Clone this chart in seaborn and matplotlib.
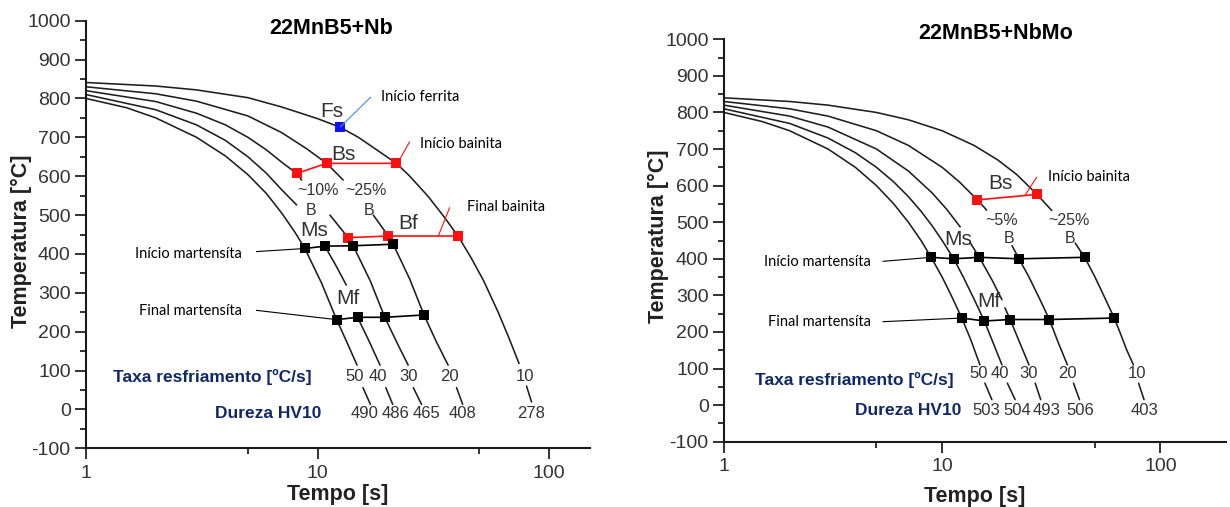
import numpy as np
import pandas as pd
import matplotlib
matplotlib.use("Agg")
import matplotlib.pyplot as plt
from matplotlib.ticker import FixedLocator, MultipleLocator, NullFormatter, FuncFormatter
import seaborn as sns

nan = np.nan

# ---------------- 22MnB5+Nb : cooling curves (time [s], temperature [°C]); nan = break in the line
nb_t50 = [1, 1.5, 2, 3, 4, 5, 6, 7, 8, 8.81, 10.4, 12.08, 13.4, 14.8, nan, 15.7, 16.9]
nb_T50 = [800, 776, 750, 700, 652, 604, 556, 505, 455, 414, 325, 231, 172, 114, nan, 56, 13]
nb_t40 = [1, 2, 3, 4, 5, 6, 7, 8.12, nan, 10.75, 12, 13.3, nan, 14.88, 16.7, 18.6, nan, 19.7, 21.1]
nb_T40 = [810, 771, 732, 692, 650, 608, 565, 526, nan, 420, 370, 320, nan, 237, 175, 114, nan, 56, 13]
nb_t30 = [1, 2, 3, 4, 5, 6, 7, 8.12, 8.53, nan, 11.3, 13.55, 14.24, 16.9, 19.5, 22, 24.6, nan, 25.9, 28.1]
nb_T30 = [820, 792, 762, 732, 700, 668, 636, 607, 590, nan, 500, 442, 421, 330, 237, 172, 114, nan, 56, 13]
nb_t20 = [1, 2, 3, 5, 7, 9, 10.94, 12.9, nan, 17.4, 20.2, 21.2, 25, 28.8, 32.5, 36.6, nan, 39.8, 42.3]
nb_T20 = [830, 812, 793, 755, 712, 670, 633, 590, nan, 500, 446, 425, 335, 243, 175, 114, nan, 56, 13]
nb_t10 = [1, 2, 3, 5, 7, 10, 12.5, 15, 21.9, 25, 30, 35, 40.4, 46, 52, 60, 67, 74.1, nan, 79.8, 83.9]
nb_T10 = [841, 832, 822, 802, 778, 748, 726, 700, 633, 600, 548, 497, 446, 390, 332, 252, 184, 118, nan, 60, 19]

# transformation points
nb_fs_t, nb_fs_T = [12.5], [726]
nb_bs_t, nb_bs_T = [8.12, 10.94, 21.9], [607, 633, 633]
nb_bf_t, nb_bf_T = [13.55, 20.2, 40.4], [442, 446, 446]
nb_ms_t, nb_ms_T = [8.81, 10.75, 14.24, 21.2], [414, 420, 421, 425]
nb_mf_t, nb_mf_T = [12.08, 14.88, 19.5, 28.8], [231, 237, 237, 243]

nb_rates = ["50", "40", "30", "20", "10"]
nb_rate_t = [14.5, 18.2, 24.6, 37.2, 78.5]
nb_hv = ["490", "486", "465", "408", "278"]
nb_hv_t = [16.0, 21.6, 29.5, 42.3, 83.9]

# ---------------- 22MnB5+NbMo
mo_t50 = [1, 1.5, 2, 3, 4, 5, 6, 7, 8, 8.9, 10, 11, 12.3, 13.5, 14.9, nan, 15.7, 16.9]
mo_T50 = [800, 775, 750, 700, 650, 600, 550, 500, 450, 404, 350, 300, 238, 180, 110, nan, 60, 15]
mo_t40 = [1, 2, 3, 4, 5, 6, 7, 8, 9, 10, 11.3, 12.5, 14, 15.6, 17, 18.8, nan, 19.9, 21.6]
mo_T40 = [810, 770, 730, 690, 650, 610, 570, 530, 490, 450, 400, 350, 290, 230, 175, 110, nan, 60, 15]
mo_t30 = [1, 2, 3, 5, 7, 9, 10.5, 12.1, nan, 13.4, 14.8, 17, 18.8, nan, 19.4, 20.5, 22.7, 25.0, nan, 26.7, 28.3]
mo_T30 = [820, 790, 760, 700, 640, 580, 535, 487, nan, 445, 404, 340, 288, nan, 266, 234, 170, 110, nan, 60, 15]
mo_t20 = [1, 2, 3, 5, 7, 10, 12, 14.5, 16.0, nan, 20.9, 22.5, 25, 28, 31.0, 34, 37.5, nan, 40, 42.6]
mo_T20 = [830, 810, 790, 750, 710, 650, 610, 561, 533, nan, 436, 400, 350, 290, 234, 172, 110, nan, 60, 15]
mo_t10 = [1, 2, 3, 5, 7, 10, 14, 18, 22, 27.2, 31.8, nan, 40.7, 45, 50, 55, 61.5, 66, 70, 75.3, nan, 79.5, 84.2]
mo_T10 = [840, 830, 820, 800, 780, 750, 710, 670, 630, 576, 532, nan, 443, 404, 352, 300, 238, 192, 152, 110, nan, 60, 15]

mo_bs_t, mo_bs_T = [14.5, 27.2], [561, 576]
mo_ms_t, mo_ms_T = [8.9, 11.3, 14.8, 22.5, 45.0], [404, 400, 404, 400, 404]
mo_mf_t, mo_mf_T = [12.3, 15.6, 20.5, 31.0, 61.5], [238, 230, 234, 234, 238]

mo_rates = ["50", "40", "30", "20", "10"]
mo_rate_t = [14.7, 18.3, 24.8, 37.5, 78.3]
mo_hv = ["503", "504", "493", "506", "403"]
mo_hv_t = [16.0, 22.0, 30.0, 42.8, 84.2]

# ---------------- styling
sns.set_style("ticks")
plt.rcParams["font.family"] = ["Liberation Sans", "DejaVu Sans"]
plt.rcParams["axes.unicode_minus"] = False

CURVE = "#1e1e1e"
TXT = "#333333"
NAVY = "#10286a"
RED = "#ff1010"
BLUE = "#1010ff"
NOTE_FONT = ["Lato", "DejaVu Sans"]

W, H = 1230, 507
fig = plt.figure(figsize=(W / 100, H / 100), dpi=100)


def box(l, r, b, t):
    return [l / W, 1 - b / H, (r - l) / W, (b - t) / H]


axL = fig.add_axes(box(86, 590, 448.3, 20.7))
axR = fig.add_axes(box(724, 1226, 441.7, 39.3))


def curve_frame(curves):
    rows = []
    for name, ts, Ts in curves:
        seg = 0
        for t, T in zip(ts, Ts):
            if np.isnan(t):
                seg += 1
                continue
            rows.append((f"{name}-{seg}", t, T))
    return pd.DataFrame(rows, columns=["unit", "t", "T"])


def draw_curves(ax, curves):
    df = curve_frame(curves)
    sns.lineplot(data=df, x="t", y="T", units="unit", estimator=None, sort=False,
                 color=CURVE, linewidth=1.15, legend=False, ax=ax)


def draw_points(ax, ts, Ts, color):
    sns.lineplot(x=ts, y=Ts, estimator=None, sort=False, color=color, linewidth=1.2,
                 marker="s", markersize=6.5, markeredgewidth=0, ax=ax)


def connector(ax, ts, Ts, color, lw=0.8):
    ax.plot(ts, Ts, color=color, linewidth=lw, solid_capstyle="butt")


def style_axes(ax, xmax, xlabel_y, ylabel_x, ylabel_y):
    ax.set_xscale("log")
    ax.set_xlim(1, xmax)
    ax.set_ylim(-100, 1000)
    ax.xaxis.set_major_locator(FixedLocator([1, 10, 100]))
    ax.xaxis.set_major_formatter(FuncFormatter(lambda v, p: f"{v:g}"))
    ax.xaxis.set_minor_locator(FixedLocator([5, 50]))
    ax.xaxis.set_minor_formatter(NullFormatter())
    ax.yaxis.set_major_locator(MultipleLocator(100))
    ax.yaxis.set_minor_locator(MultipleLocator(50))
    ax.tick_params(which="major", length=8, width=1.3, color="#222222",
                   labelsize=14, labelcolor=TXT, direction="out")
    ax.tick_params(axis="x", which="major", pad=4)
    ax.tick_params(axis="y", which="major", pad=3)
    ax.tick_params(which="minor", length=4, width=1.3, color="#222222", direction="out")
    for s in ("top", "right"):
        ax.spines[s].set_visible(False)
    for s in ("left", "bottom"):
        ax.spines[s].set_linewidth(1.5)
        ax.spines[s].set_color("#1a1a1a")
    ax.set_xlabel("Tempo [s]", fontsize=15.5, weight="bold", color="#222222")
    ax.set_ylabel("Temperatura [°C]", fontsize=15.5, weight="bold", color="#222222")
    ax.xaxis.label.set_va("center")
    ax.yaxis.label.set_va("center")
    ax.xaxis.set_label_coords(0.5, xlabel_y)
    ax.yaxis.set_label_coords(ylabel_x, ylabel_y)


def put(ax, t, T, s, size=12, ha="center", color=TXT, **kw):
    ax.text(t, T, s, fontsize=size, ha=ha, va="center", color=color, **kw)


# ================= left panel: 22MnB5+Nb
draw_curves(axL, [("50", nb_t50, nb_T50), ("40", nb_t40, nb_T40), ("30", nb_t30, nb_T30),
                  ("20", nb_t20, nb_T20), ("10", nb_t10, nb_T10)])
draw_points(axL, nb_bs_t, nb_bs_T, RED)
draw_points(axL, nb_bf_t, nb_bf_T, RED)
draw_points(axL, nb_ms_t, nb_ms_T, "black")
draw_points(axL, nb_mf_t, nb_mf_T, "black")
draw_points(axL, nb_fs_t, nb_fs_T, BLUE)

connector(axL, [12.5, 17.0], [726, 804], "#3d8fe0")
connector(axL, [22.3, 25.0], [637, 689], RED)
connector(axL, [33.2, 37.2], [446, 520], RED)
connector(axL, [5.42, 8.81], [406, 414], "black")
connector(axL, [5.42, 12.08], [255, 231], "black")

put(axL, 11.5, 766, "Fs", size=15)
put(axL, 12.9, 657, "Bs", size=15)
put(axL, 24.6, 479, "Bf", size=15)
put(axL, 9.7, 461, "Ms", size=15)
put(axL, 13.55, 285, "Mf", size=15)
put(axL, 10.06, 562, "~10%", size=11.5)
put(axL, 9.35, 513, "B", size=11.5)
put(axL, 16.2, 562, "~25%", size=11.5)
put(axL, 16.7, 513, "B", size=11.5)

put(axL, 18.8, 804, "Início ferrita", size=10.5, ha="left", color="black", family=NOTE_FONT)
put(axL, 27.8, 683, "Início bainita", size=10.5, ha="left", color="black", family=NOTE_FONT)
put(axL, 44.0, 520, "Final bainita", size=10.5, ha="left", color="black", family=NOTE_FONT)
put(axL, 4.72, 400, "Início martensíta", size=10.5, ha="right", color="black", family=NOTE_FONT)
put(axL, 4.72, 253, "Final martensíta", size=10.5, ha="right", color="black", family=NOTE_FONT)

put(axL, 1.31, 84, "Taxa resfriamento [ºC/s]", size=12.5, ha="left", color=NAVY, weight="bold")
put(axL, 3.59, -10, "Dureza HV10", size=12.5, ha="left", color=NAVY, weight="bold")
for t, s in zip(nb_rate_t, nb_rates):
    put(axL, t, 85, s, size=12)
for t, s in zip(nb_hv_t, nb_hv):
    put(axL, t, -11, s, size=12)

style_axes(axL, 150, -0.109, -0.128, 0.485)
fig.text(331 / W, 1 - 28.3 / H, "22MnB5+Nb", ha="center", va="center",
         fontsize=15.5, weight="bold", color="black")

# ================= right panel: 22MnB5+NbMo
draw_curves(axR, [("50", mo_t50, mo_T50), ("40", mo_t40, mo_T40), ("30", mo_t30, mo_T30),
                  ("20", mo_t20, mo_T20), ("10", mo_t10, mo_T10)])
draw_points(axR, mo_bs_t, mo_bs_T, RED)
draw_points(axR, mo_ms_t, mo_ms_T, "black")
draw_points(axR, mo_mf_t, mo_mf_T, "black")

connector(axR, [24.0, 27.2], [574, 624], RED)
connector(axR, [5.33, 8.9], [393, 404], "black")
connector(axR, [5.33, 12.3], [228, 238], "black")

put(axR, 18.5, 606, "Bs", size=15)
put(axR, 11.9, 453, "Ms", size=15)
put(axR, 16.3, 283, "Mf", size=15)
put(axR, 18.8, 504, "~5%", size=11.5)
put(axR, 20.2, 456, "B", size=11.5)
put(axR, 38.0, 504, "~25%", size=11.5)
put(axR, 38.4, 456, "B", size=11.5)

put(axR, 30.7, 624, "Início bainita", size=10.5, ha="left", color="black", family=NOTE_FONT)
put(axR, 4.73, 392, "Início martensíta", size=10.5, ha="right", color="black", family=NOTE_FONT)
put(axR, 4.73, 228, "Final martensíta", size=10.5, ha="right", color="black", family=NOTE_FONT)

put(axR, 1.38, 70, "Taxa resfriamento [ºC/s]", size=12.5, ha="left", color=NAVY, weight="bold")
put(axR, 3.98, -15, "Dureza HV10", size=12.5, ha="left", color=NAVY, weight="bold")
for t, s in zip(mo_rate_t, mo_rates):
    put(axR, t, 86, s, size=12)
for t, s in zip(mo_hv_t, mo_hv):
    put(axR, t, -15, s, size=12)

style_axes(axR, 200, -0.137, -0.13, 0.511)
fig.text(996 / W, 1 - 33.3 / H, "22MnB5+NbMo", ha="center", va="center",
         fontsize=15.5, weight="bold", color="black")

fig.savefig("out.png", dpi=100, facecolor="white")
